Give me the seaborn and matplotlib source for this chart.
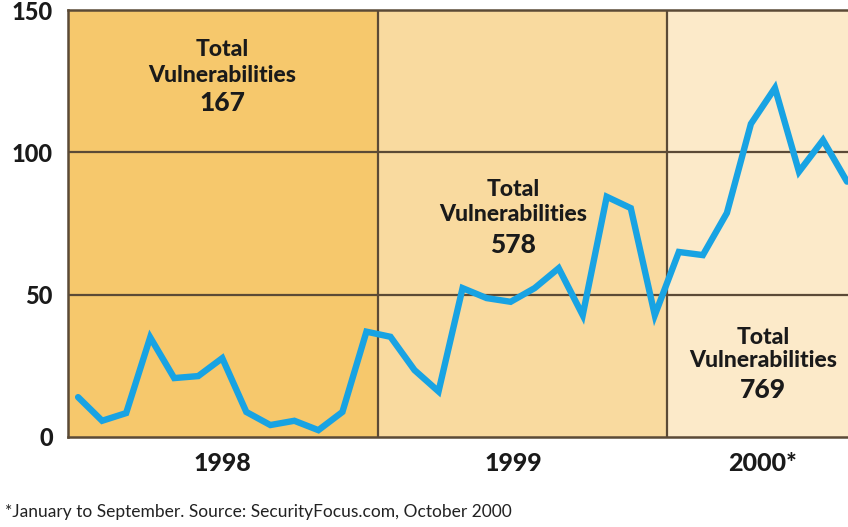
import matplotlib
matplotlib.use("Agg")
import matplotlib.pyplot as plt
import seaborn as sns
import pandas as pd
import numpy as np

# Monthly vulnerabilities, Jan 1998 .. Sep 2000
values_1998 = [14, 5.7, 8.4, 35, 20.7, 21.4, 27.7, 8.8, 4.2, 5.7, 2.4, 8.8]
values_1999 = [37, 35.2, 23.5, 16, 52.3, 48.8, 47.5, 52.3, 59.3, 42.8, 84.4, 80.4]
values_2000 = [42.8, 65, 63.9, 78.7, 110, 122.6, 93.2, 104.3, 89.7]
years = ["1998", "1999", "2000*"]
totals = ["167", "578", "769"]
y_ticks = [0, 50, 100, 150]

values = values_1998 + values_1999 + values_2000
df = pd.DataFrame({"month": np.arange(len(values)), "count": values})

sns.set_theme(style="white")
plt.rcParams['font.family'] = ['Lato', 'DejaVu Sans']

fig = plt.figure(figsize=(8.48, 5.27), dpi=100)
ax = fig.add_axes([68/848, 1-437/527, 1-68/848, (437-10)/527])

x0, x1 = -0.42, 32.04
b1, b2 = 12.5, 24.5
ax.axvspan(x0, b1, color="#F6C86C", lw=0, zorder=0)
ax.axvspan(b1, b2, color="#F9DA9F", lw=0, zorder=0)
ax.axvspan(b2, x1, color="#FCEAC9", lw=0, zorder=0)

grid_c = "#5b4a36"
for yv in [50, 100]:
    ax.axhline(yv, color=grid_c, lw=1.6, zorder=1)
for xv in [b1, b2]:
    ax.axvline(xv, color=grid_c, lw=1.6, zorder=1)

sns.lineplot(data=df, x="month", y="count", ax=ax, color="#18A3E3",
             lw=4.6, zorder=3, solid_joinstyle="miter")

ax.set_xlim(x0, x1)
ax.set_ylim(0, 150)
ax.set_yticks(y_ticks)
ax.set_yticklabels([str(v) for v in y_ticks])
ax.set_xticks([6.0, 18.1, 28.5])
ax.set_xticklabels(years)
ax.set_xlabel("")
ax.set_ylabel("")
ax.tick_params(axis="y", length=0, pad=11, labelsize=17, labelcolor="#1a1a1a")
ax.tick_params(axis="x", length=0, pad=11, labelsize=18, labelcolor="#1a1a1a")
for lab in ax.get_yticklabels() + ax.get_xticklabels():
    lab.set_fontweight(900)

for side in ["left", "bottom", "top"]:
    ax.spines[side].set_color(grid_c)
    ax.spines[side].set_linewidth(1.8)
ax.spines["right"].set_visible(False)

label_pos = [(6.0, 136, 127, 117.3), (18.1, 86.8, 78, 67.4), (28.5, 35.1, 26.7, 16.5)]
for (xc, y1, y2, y3), tot in zip(label_pos, totals):
    ax.text(xc, y1, "Total", ha="center", va="center", fontsize=16.5, fontweight=900, color="#1a1a1a", zorder=4)
    ax.text(xc, y2, "Vulnerabilities", ha="center", va="center", fontsize=16.5, fontweight=900, color="#1a1a1a", zorder=4)
    ax.text(xc, y3, tot, ha="center", va="center", fontsize=19, fontweight=900, color="#1a1a1a", zorder=4)

fig.text(5/848, 1-512/527, "*January to September. Source: SecurityFocus.com, October 2000",
         ha="left", va="center", fontsize=12.5, color="#222222")

fig.savefig("out.png", dpi=100)
